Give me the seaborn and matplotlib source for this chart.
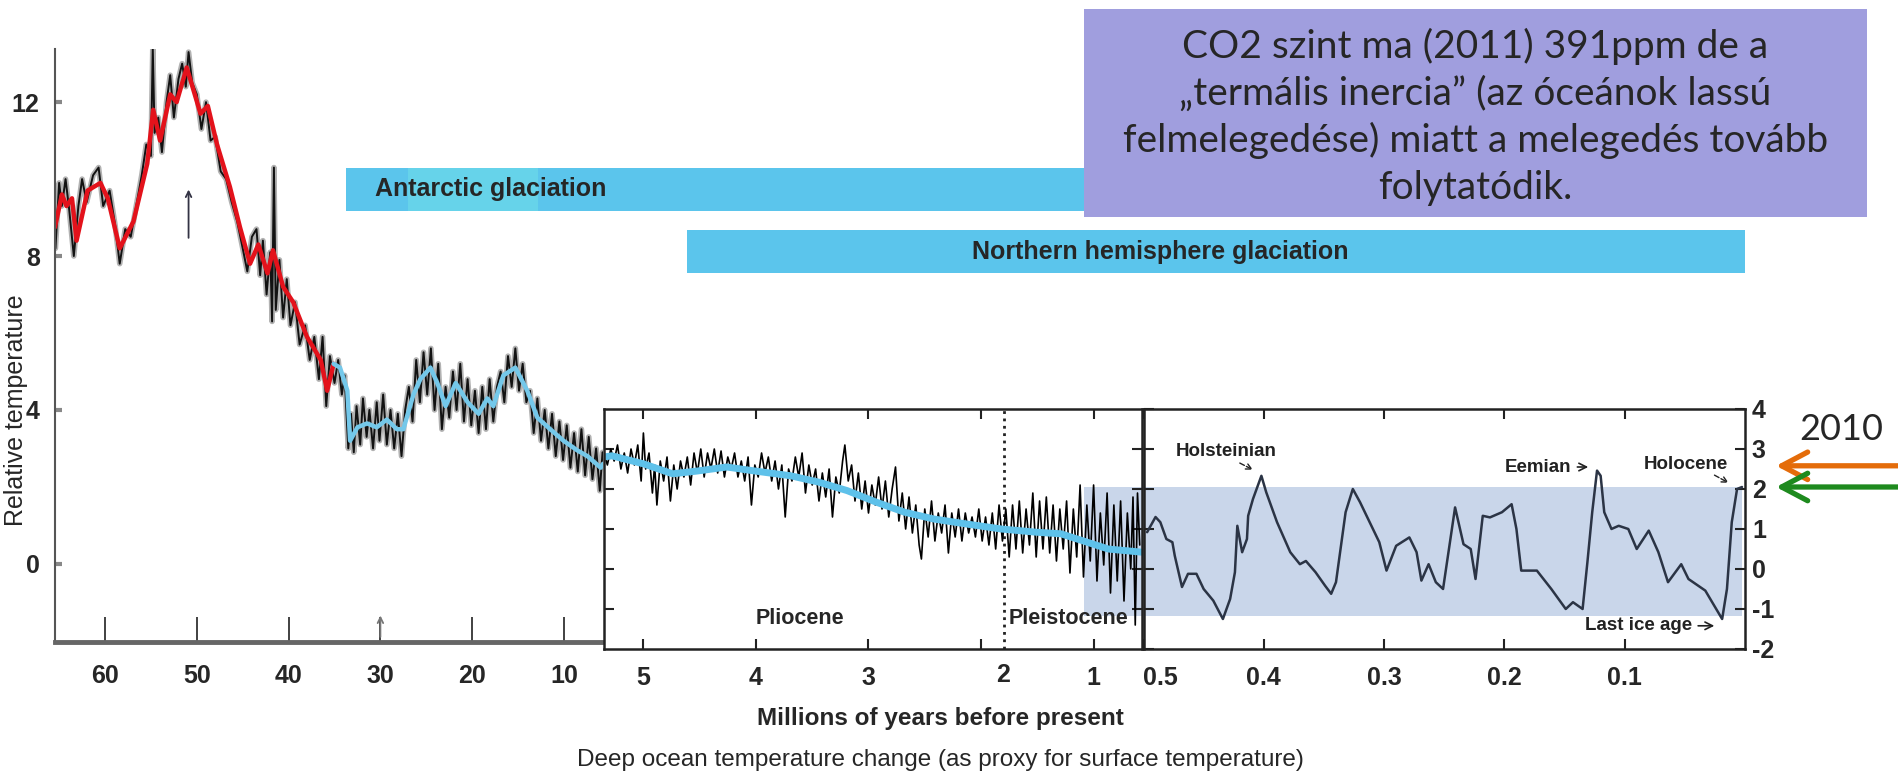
import numpy as np
import pandas as pd
import seaborn as sns
import matplotlib.pyplot as plt
from matplotlib import patches, transforms

sns.set_style("ticks")
plt.rcParams['font.family'] = ['Liberation Sans', 'DejaVu Sans']
plt.rcParams['axes.unicode_minus'] = False

# ---- data ----
# 65 - 6 Myr panel: smoothed curve (red part, then light blue part)
red_myr = [65.45, 64.7, 64.2, 63.6, 63.1, 61.9, 60.5, 59.7, 58.4, 56.9, 55.4, 54.75, 54.0,
           52.9, 52.2, 51.1, 49.6, 48.8, 47.8, 46.4, 45.3, 44.2, 43.3, 42.3, 41.7, 40.6,
           39.5, 38.0, 36.5, 35.8, 35.1]
red_temp = [8.75, 9.6, 9.3, 9.5, 8.4, 9.7, 9.9, 9.5, 8.2, 8.9, 10.4, 11.8, 11.0,
            12.2, 12.0, 12.9, 11.7, 11.9, 10.9, 9.8, 8.75, 7.8, 8.3, 7.55, 8.15, 7.2,
            6.8, 5.9, 5.3, 4.5, 5.2]
blue_l_myr = [35.1, 34.4, 33.6, 33.3, 32.5, 31.45, 30.4, 29.3, 28.2, 27.5, 26.4, 25.65,
              24.55, 23.8, 22.9, 21.8, 20.5, 19.3, 18.35, 17.7, 16.6, 15.3, 14.0, 12.9,
              11.5, 10.05, 8.55, 7.45, 6.0, 5.75]
blue_l_temp = [5.2, 5.1, 4.5, 3.2, 3.55, 3.65, 3.55, 3.75, 3.5, 3.5, 4.4, 4.8,
               5.1, 4.7, 4.1, 4.7, 4.2, 3.9, 4.3, 4.1, 4.9, 5.1, 4.5, 3.8,
               3.5, 3.2, 2.95, 2.8, 2.5, 2.6]
# raw (black) record behind it
raw_l_myr = [65.4, 65.0, 64.7, 64.3, 63.9, 63.4, 62.9, 62.5, 62.0, 61.3, 60.7, 60.2, 59.5,
             58.9, 58.4, 57.8, 57.2, 56.6, 56.0, 55.5, 55.0, 54.8, 54.6, 54.2, 53.8, 53.3,
             52.9, 52.5, 52.0, 51.6, 51.2, 50.9, 50.5, 50.0, 49.5, 49.0, 48.5, 48.0, 47.4,
             46.8, 46.2, 45.6, 45.0, 44.5, 44.0, 43.5, 43.1, 42.8, 42.4, 42.0, 41.8, 41.6,
             41.4, 41.0, 40.6, 40.2, 39.8, 39.3, 38.8, 38.2, 37.7, 37.2, 36.7, 36.3, 35.9,
             35.5, 35.0, 34.6, 34.2, 33.9, 33.5, 33.2, 32.9, 32.6, 32.2, 31.9, 31.5, 31.2,
             30.8, 30.4, 30.1, 29.7, 29.3, 28.9, 28.5, 28.1, 27.7, 27.3, 26.9, 26.5, 26.1,
             25.7, 25.3, 24.9, 24.5, 24.1, 23.7, 23.3, 22.9, 22.5, 22.1, 21.7, 21.3, 20.9,
             20.5, 20.1, 19.7, 19.3, 18.9, 18.5, 18.1, 17.7, 17.3, 16.9, 16.5, 16.1, 15.7,
             15.3, 14.9, 14.5, 14.1, 13.7, 13.3, 12.9, 12.5, 12.1, 11.7, 11.3, 10.9, 10.5,
             10.1, 9.7, 9.3, 8.9, 8.5, 8.1, 7.7, 7.3, 6.9, 6.5, 6.1, 5.8]
raw_l_temp = [8.2, 9.9, 9.3, 10.0, 9.2, 8.0, 9.3, 10.0, 9.4, 10.1, 10.3, 9.3, 9.7,
              8.8, 7.8, 8.7, 8.5, 9.3, 10.1, 10.9, 10.6, 13.4, 11.2, 11.6, 10.7, 12.0,
              12.7, 11.6, 12.6, 13.0, 12.4, 13.3, 12.5, 12.2, 11.3, 12.0, 11.0, 11.1, 10.2,
              10.0, 9.4, 8.9, 8.2, 7.6, 8.5, 8.7, 7.5, 8.4, 7.0, 8.1, 6.3, 10.3,
              6.6, 7.9, 6.4, 7.4, 6.2, 6.8, 5.7, 6.2, 5.3, 5.9, 4.8, 5.9, 4.1,
              5.4, 4.7, 5.3, 4.4, 4.9, 3.0, 3.9, 2.9, 4.1, 3.1, 4.3, 3.3, 4.0,
              3.0, 4.2, 3.2, 4.4, 3.1, 4.0, 3.0, 3.9, 2.8, 4.0, 4.6, 3.7, 5.3,
              4.2, 5.5, 4.4, 5.6, 4.0, 5.2, 3.5, 4.6, 3.8, 5.0, 4.0, 5.2, 3.7,
              4.8, 3.6, 4.5, 3.4, 4.6, 3.5, 4.8, 3.7, 4.6, 5.0, 4.2, 5.4, 4.6,
              5.6, 4.5, 5.2, 4.2, 4.5, 3.4, 4.3, 3.2, 4.0, 3.0, 3.9, 2.8, 3.7,
              2.7, 3.6, 2.5, 3.4, 2.4, 3.5, 2.3, 3.3, 2.2, 3.0, 1.9, 2.9]

# 5.3 - 0.6 Myr panel
smooth_m_myr = [5.35, 5.28, 5.0, 4.74, 4.52, 4.26, 4.01, 3.69, 3.44, 3.19, 2.93, 2.68,
                2.42, 2.14, 1.82, 1.51, 1.29, 1.09, 0.87, 0.57]
smooth_m_temp = [2.8, 2.83, 2.63, 2.38, 2.45, 2.55, 2.45, 2.33, 2.17, 1.96, 1.67, 1.42,
                 1.25, 1.13, 1.0, 0.92, 0.88, 0.7, 0.5, 0.42]
raw_m_myr = [5.35, 5.32, 5.29, 5.26, 5.23, 5.20, 5.17, 5.14, 5.11, 5.08, 5.05, 5.02, 5.00,
             4.98, 4.95, 4.92, 4.90, 4.88, 4.85, 4.82, 4.79, 4.76, 4.73, 4.70, 4.67, 4.64,
             4.61, 4.58, 4.55, 4.52, 4.49, 4.46, 4.43, 4.40, 4.37, 4.34, 4.31, 4.28, 4.25,
             4.22, 4.19, 4.16, 4.13, 4.10, 4.07, 4.04, 4.01, 3.98, 3.95, 3.92, 3.89, 3.86,
             3.83, 3.80, 3.77, 3.74, 3.71, 3.68, 3.65, 3.62, 3.59, 3.56, 3.53, 3.50, 3.47,
             3.44, 3.41, 3.38, 3.35, 3.32, 3.29, 3.26, 3.23, 3.21, 3.18, 3.15, 3.12, 3.09,
             3.06, 3.03, 3.00, 2.97, 2.94, 2.91, 2.88, 2.85, 2.82, 2.79, 2.76, 2.73, 2.70,
             2.67, 2.64, 2.61, 2.58, 2.55, 2.53, 2.50, 2.47, 2.44, 2.41, 2.38, 2.35, 2.32,
             2.29, 2.26, 2.23, 2.20, 2.17, 2.14, 2.11, 2.08, 2.05, 2.02, 1.99, 1.96, 1.93,
             1.90, 1.87, 1.84, 1.81, 1.78, 1.75, 1.72, 1.69, 1.66, 1.63, 1.60, 1.57, 1.54,
             1.51, 1.48, 1.45, 1.42, 1.39, 1.36, 1.33, 1.30, 1.27, 1.24, 1.21, 1.18, 1.15,
             1.12, 1.09, 1.06, 1.03, 1.00, 0.97, 0.94, 0.91, 0.88, 0.85, 0.82, 0.79, 0.76,
             0.73, 0.70, 0.67, 0.65, 0.63, 0.61, 0.59]
raw_m_temp = [2.9, 2.6, 3.0, 2.7, 3.1, 2.5, 2.9, 2.4, 3.0, 2.6, 3.1, 2.2, 3.4,
              2.5, 2.9, 1.9, 2.6, 1.6, 2.7, 2.2, 2.8, 1.7, 2.6, 2.0, 2.7, 2.3,
              2.8, 2.1, 2.9, 2.4, 3.0, 2.3, 2.9, 2.5, 3.0, 2.4, 2.95, 2.3, 2.8,
              2.5, 2.9, 2.3, 2.7, 2.2, 2.8, 1.6, 2.6, 2.3, 2.9, 2.4, 2.8, 2.2,
              2.7, 2.0, 2.6, 1.3, 2.5, 2.2, 2.8, 2.3, 2.9, 1.9, 2.6, 2.1, 2.5,
              1.7, 2.4, 1.8, 2.5, 1.3, 2.3, 1.9, 2.7, 3.1, 2.2, 2.6, 1.7, 2.4,
              1.5, 2.2, 1.4, 2.1, 1.6, 2.3, 1.5, 2.2, 1.3, 2.0, 2.55, 1.2, 1.9,
              1.0, 1.8, 0.9, 1.6, 0.6, 0.25, 1.5, 0.8, 1.7, 0.7, 1.4, 0.9, 1.6,
              0.4, 1.4, 0.8, 1.5, 0.7, 1.4, 0.9, 1.3, 0.8, 1.5, 0.7, 1.3, 0.6,
              1.4, 0.5, 1.6, 0.7, 1.5, 0.3, 1.6, 0.5, 1.7, 0.4, 1.5, 0.6, 1.9,
              0.3, 1.7, 0.5, 1.8, 0.4, 1.6, 0.2, 1.5, 0.5, 1.7, -0.1, 1.5, 0.3,
              2.1, -0.2, 1.6, 0.2, 2.1, -0.3, 1.4, 0.1, 1.9, -0.6, 1.6, -0.3, 1.7,
              -0.8, 1.4, 0.0, 1.8, -1.4, 1.9, 0.6]

# last 0.5 Myr panel
last_myr = [0.497, 0.490, 0.486, 0.481, 0.476, 0.474, 0.468, 0.463, 0.456, 0.450, 0.442,
            0.434, 0.428, 0.424, 0.422, 0.418, 0.414, 0.413, 0.409, 0.402, 0.398, 0.389,
            0.378, 0.370, 0.365, 0.357, 0.349, 0.344, 0.340, 0.332, 0.326, 0.320, 0.312,
            0.304, 0.298, 0.290, 0.279, 0.273, 0.269, 0.263, 0.257, 0.251, 0.241, 0.234,
            0.228, 0.224, 0.218, 0.212, 0.202, 0.194, 0.190, 0.186, 0.173, 0.161, 0.149,
            0.143, 0.135, 0.131, 0.127, 0.123, 0.120, 0.117, 0.111, 0.105, 0.097, 0.090,
            0.080, 0.072, 0.064, 0.053, 0.047, 0.033, 0.019, 0.015, 0.011, 0.0066, 0.0025]
last_temp = [0.92, 1.3, 1.17, 0.75, 0.67, 0.33, -0.45, -0.12, -0.12, -0.5, -0.79,
             -1.25, -0.75, -0.08, 1.08, 0.42, 0.75, 1.33, 1.75, 2.33, 1.92, 1.17,
             0.42, 0.12, 0.2, -0.08, -0.42, -0.62, -0.33, 1.42, 2.0, 1.67, 1.17,
             0.67, -0.04, 0.58, 0.79, 0.42, -0.29, 0.12, -0.33, -0.5, 1.54, 0.62,
             0.5, -0.25, 1.33, 1.29, 1.42, 1.62, 1.0, -0.04, -0.04, -0.5, -1.0,
             -0.83, -1.0, 0.17, 1.42, 2.46, 2.33, 1.42, 1.0, 1.08, 1.0, 0.5,
             0.96, 0.42, -0.33, 0.12, -0.25, -0.54, -1.25, -0.5, 1.17, 2.0, 2.05]

band_start_myr, band_end_myr = 1.085, 0.0025
band_low, band_high = -1.17, 2.05
pliocene_boundary = 1.8

glaciations = ["Antarctic glaciation", "Northern hemisphere glaciation"]
glaciation_start_myr = [33.7, 4.61]
level_2010 = [2.58, 2.05]          # orange / green arrows
arrow_colors = ['#e46c0a', '#1e8a1e']

box_lines = ["CO2 szint ma (2011) 391ppm de a",
             "\u201etermális inercia\u201d (az óceánok lassú",
             "felmelegedése) miatt a melegedés tovább",
             "folytatódik."]

# ---- layout (pixel boxes of the 1899x775 canvas) ----
W, H = 1899, 775
fig = plt.figure(figsize=(W / 100, H / 100), dpi=100)
fig.patch.set_facecolor('white')


def px_box(x0, y0, x1, y1):
    return [x0 / W, 1 - y1 / H, (x1 - x0) / W, (y1 - y0) / H]


ax_l = fig.add_axes(px_box(55, 49, 603, 642))
ax_m = fig.add_axes(px_box(604, 409, 1142, 649))
ax_r = fig.add_axes(px_box(1143.5, 409, 1745, 649))
bold = dict(fontweight='bold', fontsize=18)

# left panel
ax_l.set_facecolor('none')
sns.lineplot(x=raw_l_myr, y=raw_l_temp, ax=ax_l, color='black', lw=4, alpha=0.3,
             sort=False, estimator=None)
sns.lineplot(x=raw_l_myr, y=raw_l_temp, ax=ax_l, color='black', lw=1.4, alpha=0.9,
             sort=False, estimator=None)
sns.lineplot(x=red_myr, y=red_temp, ax=ax_l, color='#e3121b', lw=3.2, sort=False, estimator=None)
sns.lineplot(x=blue_l_myr, y=blue_l_temp, ax=ax_l, color='#74c8ea', lw=3.2, sort=False,
             estimator=None)
ax_l.set_xlim(65.45, 5.75)
ax_l.set_ylim(-2.03, 13.38)
ax_l.set_xticks([60, 50, 40, 30, 20, 10])
ax_l.set_xticklabels(['60', '50', '40', '30', '20', '10'], **bold)
ax_l.set_yticks([0, 4, 8, 12])
ax_l.set_yticklabels(['0', '4', '8', '12'], **bold)
for s in ['top', 'right']:
    ax_l.spines[s].set_visible(False)
ax_l.spines['left'].set_color('#555555')
ax_l.spines['left'].set_linewidth(1.5)
ax_l.spines['bottom'].set_color('#666666')
ax_l.spines['bottom'].set_linewidth(3.5)
ax_l.tick_params(axis='x', direction='in', length=18, width=1.3, color='#333333', pad=16)
ax_l.tick_params(axis='y', direction='in', length=5, width=3, color='#888888', pad=11)
ax_l.annotate('', xy=(50.9, 9.8), xytext=(50.9, 8.4),
              arrowprops=dict(arrowstyle='->', color='#333344', lw=1.3))
ax_l.annotate('', xy=(30.0, -1.27), xytext=(30.0, -1.97),
              arrowprops=dict(arrowstyle='->', color='#777777', lw=1.3))

# middle panel
ax_m.set_facecolor('white')
ax_m.fill_between([band_start_myr, 0.0], band_low, band_high, color='#c9d6ea', lw=0, zorder=0)
ax_m.axvline(pliocene_boundary, color='#222222', ls=':', lw=2)
sns.lineplot(x=raw_m_myr, y=raw_m_temp, ax=ax_m, color='black', lw=1.2, sort=False,
             estimator=None)
sns.lineplot(x=smooth_m_myr, y=smooth_m_temp, ax=ax_m, color='#5ec1ea', lw=5, sort=False,
             estimator=None)
ax_m.set_xlim(5.35, 0.57)
ax_m.set_ylim(-2, 4)
ax_m.set_xticks([5, 4, 3, 2, 1])
ax_m.set_xticklabels(['5', '4', '3', '', '1'], **bold)
ax_m.set_yticks([-1, 0, 1, 2, 3])
ax_m.tick_params(direction='in', top=True, right=True, length=7, width=1.5, color='#222222',
                 labelleft=False, pad=12)
ax_m.text(pliocene_boundary, -0.108, '2', transform=ax_m.get_xaxis_transform(),
          ha='center', va='center', **bold)
ax_m.text(3.61, -1.25, 'Pliocene', ha='center', va='center', fontsize=15.5, fontweight='bold')
ax_m.text(1.22, -1.25, 'Pleistocene', ha='center', va='center', fontsize=15.5,
          fontweight='bold')

# right panel
ax_r.set_facecolor('white')
ax_r.fill_between([0.5, band_end_myr], band_low, band_high, color='#c9d6ea', lw=0, zorder=0)
sns.lineplot(x=last_myr, y=last_temp, ax=ax_r, color='#2b3445', lw=1.8, sort=False,
             estimator=None)
ax_r.set_xlim(0.5, 0.0)
ax_r.set_ylim(-2, 4)
ax_r.set_xticks([0.5, 0.4, 0.3, 0.2, 0.1])
ax_r.set_xticklabels(['0.5', '0.4', '0.3', '0.2', '0.1'], **bold)
ax_r.get_xticklabels()[0].set_horizontalalignment('left')
ax_r.set_yticks([-2, -1, 0, 1, 2, 3, 4])
ax_r.yaxis.tick_right()
ax_r.set_yticklabels(['-2', '-1', '0', '1', '2', '3', '4'], **bold)
ax_r.tick_params(direction='in', top=True, left=True, right=True, length=7, width=1.5,
                 color='#222222', pad=12)
ax_r.tick_params(axis='y', pad=5)
for ax in (ax_m, ax_r):
    ax.set_xlabel('')
    ax.set_ylabel('')
    for s in ax.spines.values():
        s.set_color('#222222')
        s.set_linewidth(1.8)
ax_l.set_xlabel('')
ax_l.set_ylabel('')

note = dict(fontsize=13.5, fontweight='bold', color='#222222')
ax_r.text(0.431, 2.95, 'Holsteinian', ha='center', va='center', **note)
ax_r.annotate('', xy=(0.407, 2.45), xytext=(0.422, 2.68),
              arrowprops=dict(arrowstyle='->', ls='--', lw=1, color='#222222'))
ax_r.annotate('Eemian', xy=(0.128, 2.55), xytext=(0.1444, 2.55), ha='right', va='center',
              arrowprops=dict(arrowstyle='->', lw=1.2, color='#222222'), **note)
ax_r.text(0.0494, 2.62, 'Holocene', ha='center', va='center', **note)
ax_r.annotate('', xy=(0.0116, 2.12), xytext=(0.0274, 2.38),
              arrowprops=dict(arrowstyle='->', ls='--', lw=1, color='#222222'))
ax_r.annotate('Last ice age', xy=(0.0232, -1.42), xytext=(0.044, -1.42), ha='right',
              va='center', arrowprops=dict(arrowstyle='->', lw=1.2, color='#222222'), **note)

# 2010 arrows
for lvl, col in zip(level_2010, arrow_colors):
    ax_r.annotate('', xy=(1.0516, lvl), xytext=(1.256, lvl),
                  xycoords=('axes fraction', 'data'), textcoords=('axes fraction', 'data'),
                  annotation_clip=False,
                  arrowprops=dict(arrowstyle='->,head_length=0.85,head_width=0.45',
                                  mutation_scale=22, lw=3.8, color=col, shrinkA=0, shrinkB=0))
ax_r.text(1.16, 3.5, '2010', transform=ax_r.get_yaxis_transform(), ha='center', va='center',
          fontsize=26, family=['Lato', 'DejaVu Sans'], clip_on=False)

# axis titles
fig.text(16 / W, 1 - 410 / H, 'Relative temperature', rotation=90, ha='center', va='center',
         fontsize=18)
fig.text(940 / W, 1 - 718 / H, 'Millions of years before present', ha='center', va='center',
         fontsize=17.5, fontweight='bold')
fig.text(940 / W, 1 - 760 / H, 'Deep ocean temperature change (as proxy for surface temperature)',
         ha='center', va='center', fontsize=17.5)

# glaciation bars (start from the panel scales, end at the present)
end_px = ax_r.transData.transform((0.0, 0))[0]
bar_rows = [(168, 211), (230, 273)]
start_axes = [ax_l, ax_m]
for name, start, (y0, y1), a in zip(glaciations, glaciation_start_myr, bar_rows, start_axes):
    x0 = a.transData.transform((start, 0))[0]
    fig.patches.append(patches.Rectangle((x0 / W, 1 - y1 / H), (end_px - x0) / W, (y1 - y0) / H,
                                         transform=fig.transFigure, facecolor='#5bc5ec',
                                         edgecolor='none', zorder=2))
hl0 = ax_l.transData.transform((26.95, 0))[0]
hl1 = ax_l.transData.transform((12.78, 0))[0]
fig.patches.append(patches.Rectangle((hl0 / W, 1 - 211 / H), (hl1 - hl0) / W, 43 / H,
                                     transform=fig.transFigure, facecolor='#66d3ea',
                                     edgecolor='none', zorder=2))
fig.text(375 / W, 1 - 189 / H, glaciations[0], ha='left', va='center', fontsize=18,
         fontweight='bold', zorder=3)
fig.text(1160 / W, 1 - 252 / H, glaciations[1], ha='center', va='center', fontsize=18,
         fontweight='bold', zorder=3)

# text box
fig.patches.append(patches.Rectangle((1084 / W, 1 - 217 / H), 783 / W, 208 / H,
                                     transform=fig.transFigure, facecolor='#a09ede',
                                     edgecolor='none', zorder=4))
for i, line in enumerate(box_lines):
    fig.text(1475.5 / W, 1 - (46 + 47.3 * i) / H, line, ha='center', va='center', fontsize=28,
             family=['Lato', 'DejaVu Sans'], zorder=5)

fig.savefig('out.png', dpi=100)
